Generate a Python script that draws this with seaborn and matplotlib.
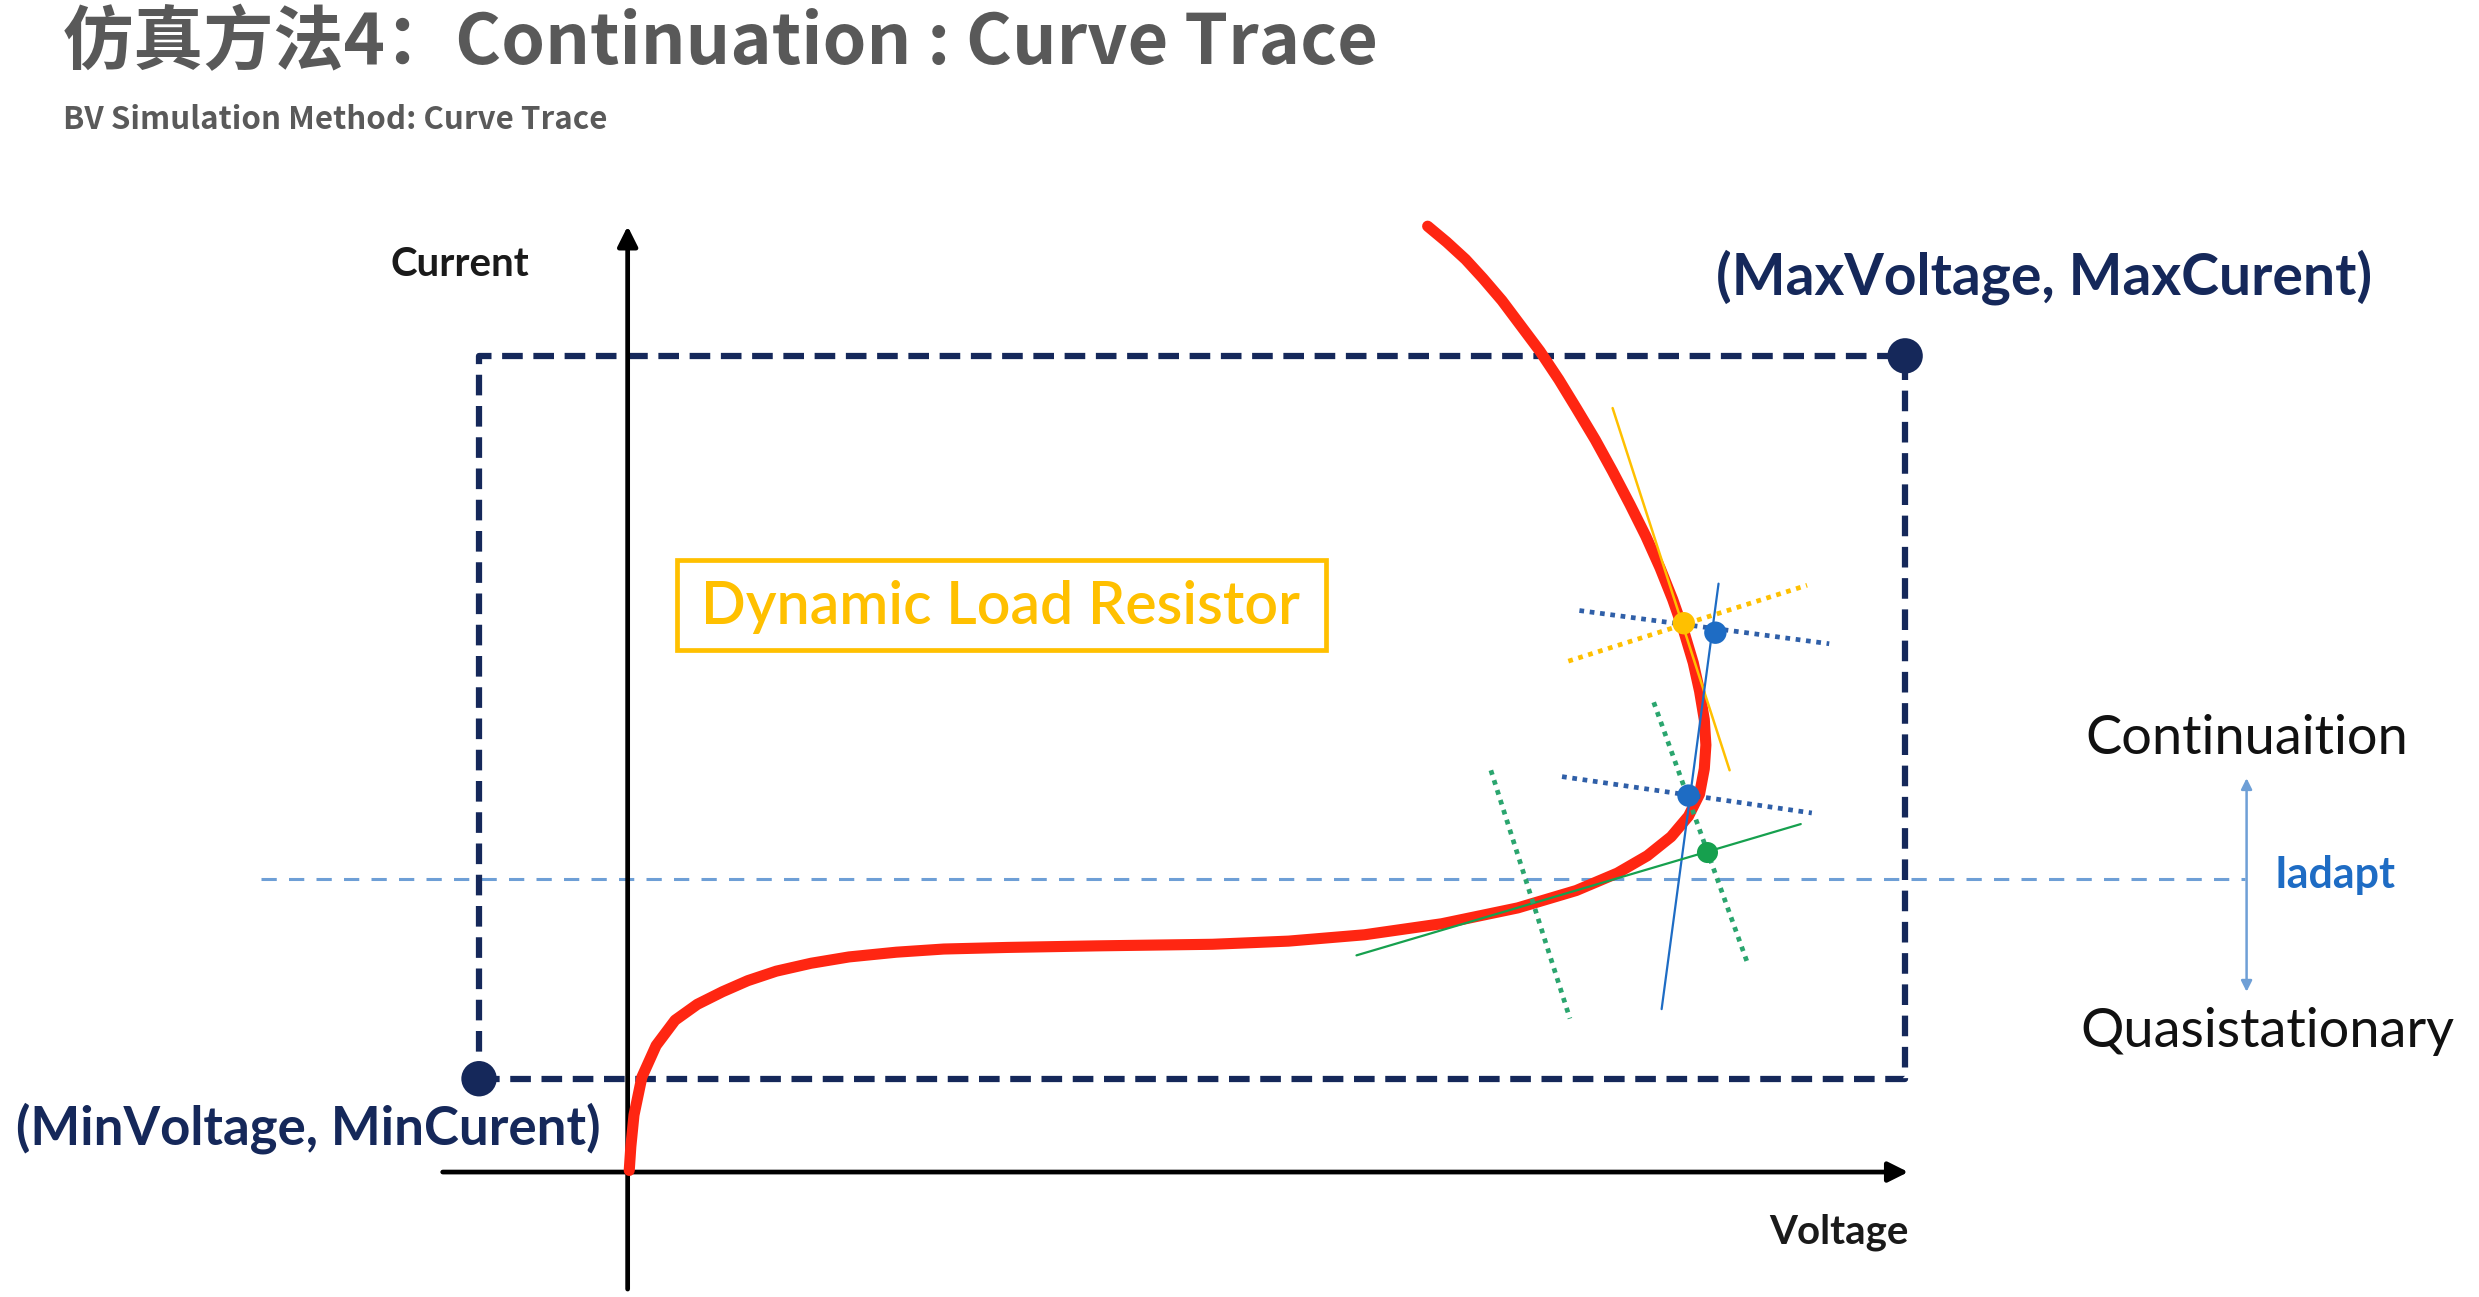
import matplotlib
matplotlib.use("Agg")
import matplotlib.pyplot as plt
import seaborn as sns
import pandas as pd
from matplotlib.patches import Rectangle

# ---------------- data (diagram units: Voltage right, Current up, origin at axes cross) ----------------
curve_v = [1, 2, 4, 9, 18, 30, 44, 60, 76, 94, 116, 140, 170, 200, 240, 297, 370, 418, 466,
           515, 563, 600, 626, 645, 660, 671, 678, 681, 682, 681, 678, 674, 668, 661, 653,
           644, 634, 623, 612, 600, 589, 577, 565, 553, 541, 530, 518, 506]
curve_i = [1, 16, 36, 60, 80, 96, 106, 114, 121, 127, 132, 136, 139, 141, 142, 143, 144, 146,
           150, 157, 167, 178, 189, 200, 212, 225, 239, 255, 270, 286, 304, 322, 342, 362,
           382, 402, 422, 443, 463, 483, 501, 519, 535, 551, 565, 577, 588, 598]

box_v = [-94, 808]          # MinVoltage, MaxVoltage
box_i = [59, 516]           # MinCurrent, MaxCurrent

iadapt_level = 185
iadapt_span_v = [-232, 1023]
arrow_span_i = [114, 249]

# tangent / normal construction lines: (v0, i0, v1, i1)
yellow_tangent = [623, 483, 697, 254]
yellow_dotted = [595, 323, 746, 371]
blue_dotted_1 = [602, 355, 760, 334]
blue_solid = [690, 372, 654, 103]
blue_dotted_2 = [591, 250, 749, 227]
green_solid = [461, 137, 742, 220]
green_dotted_1 = [649, 297, 708, 133]
green_dotted_2 = [546, 254, 596, 97]

yellow_pt = [668, 347]
blue_pts_v = [688, 671]
blue_pts_i = [341, 238]
green_pt = [683, 202]

title_text = "仿真方法4：Continuation : Curve Trace"
subtitle_text = "BV Simulation Method: Curve Trace"

# ---------------- styling ----------------
sns.set_theme(style="white")
plt.rcParams["font.family"] = ["Noto Sans CJK SC", "DejaVu Sans"]

RED = "#FF2612"
GOLD = "#FFC000"
NAVY = "#15285A"
BLUE = "#1E6CC4"
BLUE_DOT = "#2F5FA8"
GREEN = "#16A04E"
GREEN_DOT = "#2AA56E"
LIGHTBLUE = "#6E9FD6"

fig = plt.figure(figsize=(24.79, 12.97), dpi=100)
ax = fig.add_axes([0, 0, 1, 1])
ax.set_xlim(-397, 1171)
ax.set_ylim(-79, 741)
ax.axis("off")

# dashed limits box
bx = [box_v[0], box_v[1], box_v[1], box_v[0], box_v[0]]
by = [box_i[0], box_i[0], box_i[1], box_i[1], box_i[0]]
ax.plot(bx, by, color=NAVY, lw=4.5, linestyle=(0, (3.3, 1.7)), zorder=2)

# Iadapt dashed level
ax.plot(iadapt_span_v, [iadapt_level, iadapt_level], color=LIGHTBLUE, lw=2.2,
        linestyle=(0, (5, 4)), zorder=1)

# axes arrows
ax.annotate("", xy=(0, 598), xytext=(0, -74),
            arrowprops=dict(arrowstyle="-|>", lw=3.4, color="black", mutation_scale=30,
                            shrinkA=0, shrinkB=0), zorder=3)
ax.annotate("", xy=(810, 0), xytext=(-117, 0),
            arrowprops=dict(arrowstyle="-|>", lw=3.4, color="black", mutation_scale=30,
                            shrinkA=0, shrinkB=0), zorder=3)

# main IV curve
df = pd.DataFrame({"Voltage": curve_v, "Current": curve_i})
sns.lineplot(data=df, x="Voltage", y="Current", sort=False, estimator=None, ax=ax,
             color=RED, lw=8, zorder=4, solid_capstyle="round", solid_joinstyle="round")

def seg(s, **kw):
    ax.plot([s[0], s[2]], [s[1], s[3]], **kw)

dot_style = dict(lw=3.4, linestyle=(0, (1, 1.2)), dash_capstyle="butt")
seg(yellow_tangent, color=GOLD, lw=1.8, zorder=5)
seg(yellow_dotted, color=GOLD, zorder=5, **dot_style)
seg(blue_dotted_1, color=BLUE_DOT, zorder=5, **dot_style)
seg(blue_solid, color=BLUE, lw=1.6, zorder=5)
seg(blue_dotted_2, color=BLUE_DOT, zorder=5, **dot_style)
seg(green_solid, color=GREEN, lw=1.6, zorder=5)
seg(green_dotted_1, color=GREEN_DOT, zorder=5, **dot_style)
seg(green_dotted_2, color=GREEN_DOT, zorder=5, **dot_style)

# points
sns.scatterplot(x=box_v, y=box_i, ax=ax, color=NAVY, s=650, edgecolor="none", zorder=6)
sns.scatterplot(x=[yellow_pt[0]], y=[yellow_pt[1]], ax=ax, color=GOLD, s=260, edgecolor="none", zorder=6)
sns.scatterplot(x=blue_pts_v, y=blue_pts_i, ax=ax, color=BLUE, s=260, edgecolor="none", zorder=6)
sns.scatterplot(x=[green_pt[0]], y=[green_pt[1]], ax=ax, color=GREEN, s=230, edgecolor="none", zorder=6)

# double arrow next to Iadapt
ax.annotate("", xy=(1024, arrow_span_i[1]), xytext=(1024, arrow_span_i[0]),
            arrowprops=dict(arrowstyle="<|-|>", lw=1.8, color=LIGHTBLUE, mutation_scale=16,
                            shrinkA=0, shrinkB=0), zorder=3)

# Dynamic Load Resistor box
ax.add_patch(Rectangle((31, 330), 411, 57, fill=False, edgecolor=GOLD, lw=3.4, zorder=5))

# ---------------- texts ----------------
ax.text(-357, 713, title_text, fontsize=50.5, fontweight="bold", color="#595959",
        ha="left", va="center", family=["Noto Sans CJK SC", "DejaVu Sans"])
ax.text(-357, 665, subtitle_text, fontsize=22.5, fontweight="bold", color="#5a5a5a",
        ha="left", va="center", family=["Noto Sans CJK SC", "DejaVu Sans"])

lab = dict(family=["Lato", "DejaVu Sans"])
ax.text(-106, 574, "Current", fontsize=29, color="#1a1a1a", ha="center", va="center",
        fontweight="bold", **lab)
ax.text(766, -38, "Voltage", fontsize=29, color="#1a1a1a", ha="center", va="center",
        fontweight="bold", **lab)
ax.text(896, 566, "(MaxVoltage, MaxCurent)", fontsize=41, color=NAVY, ha="center",
        va="center", fontweight="bold", **lab)
ax.text(-202, 28, "(MinVoltage, MinCurent)", fontsize=38, color=NAVY, ha="center",
        va="center", fontweight="bold", **lab)
ax.text(236, 357, "Dynamic Load Resistor", fontsize=42.5, color=GOLD, ha="center",
        va="center", fontweight="semibold", **lab)
ax.text(1024, 274, "Continuaition", fontsize=39, color="#111111", ha="center", va="center",
        **lab)
ax.text(1037, 89, "Quasistationary", fontsize=39, color="#111111", ha="center", va="center",
        **lab)
ax.text(1080, 188, "Iadapt", fontsize=31, color=BLUE, ha="center", va="center",
        fontweight="bold", **lab)

fig.savefig("out.png", dpi=100, facecolor="white")
